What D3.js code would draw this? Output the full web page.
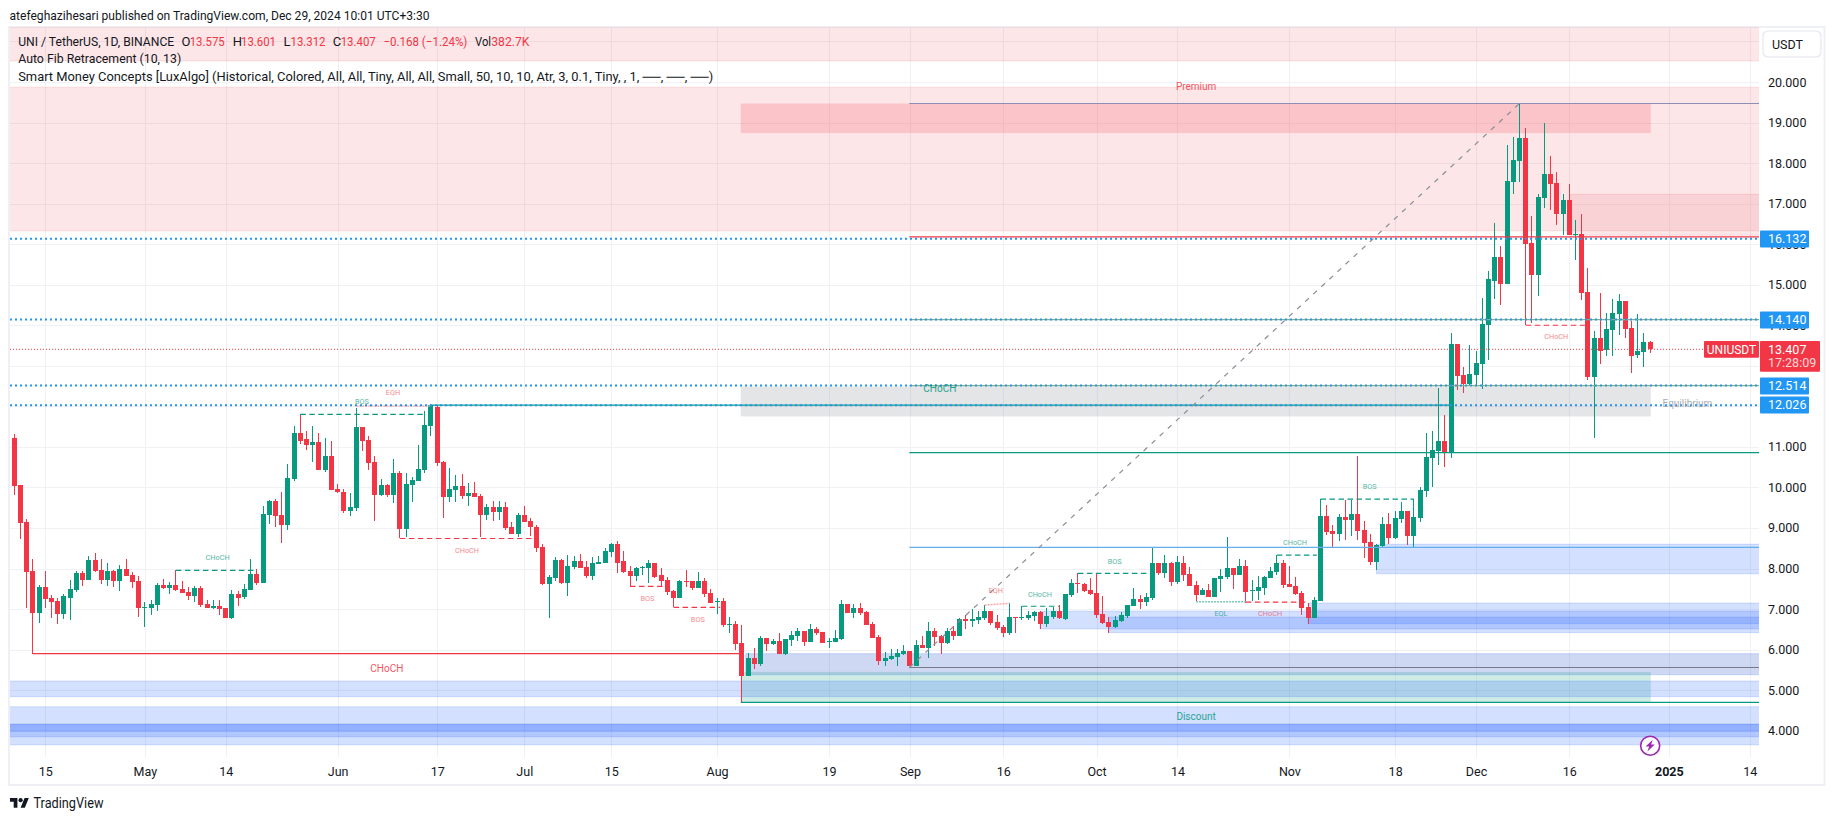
<!DOCTYPE html>
<html>
<head>
<meta charset="utf-8">
<title>UNIUSDT</title>
<script src="https://cdn.jsdelivr.net/npm/d3@7"></script>
<style>
  html, body { margin: 0; padding: 0; background: #fff; }
  svg { display: block; }
  text { font-family: Roboto, "Noto Sans", sans-serif; fill: #131722; }
</style>
</head>
<body>
<svg id="chart" width="1835" height="821"></svg>
<script>
// daily candles, first one is 2024-04-10
const firstDay = Date.UTC(2024, 3, 10);

const opens = [
  11.21,10.05,9.14,7.93,6.90,7.54,7.27,7.19,6.87,7.27,
  7.47,7.88,7.71,8.21,7.96,7.71,7.93,7.69,7.99,7.84,
  7.69,7.02,7.02,7.10,7.59,7.52,7.59,7.49,7.42,7.32,
  7.52,7.12,7.02,7.07,7.02,6.78,7.37,7.29,7.47,7.86,
  7.64,9.32,9.66,9.32,9.07,10.20,11.34,11.19,11.04,11.12,
  10.43,10.77,9.96,9.88,9.41,9.49,11.49,11.17,10.62,9.81,
  10.05,9.81,10.35,8.97,10.05,10.15,10.43,11.51,11.98,10.62,
  9.76,9.93,10.03,9.79,9.86,9.79,9.32,9.51,9.39,9.51,
  9.02,8.85,9.32,9.17,9.02,8.53,7.62,7.76,8.21,7.64,
  8.03,8.18,8.03,7.81,8.11,8.13,8.40,8.60,8.18,7.94,
  7.81,8.03,8.01,8.13,7.84,7.71,7.44,7.27,7.69,7.69,
  7.52,7.69,7.39,7.18,7.20,6.61,6.63,6.16,5.35,5.79,
  5.64,6.28,6.14,6.21,5.89,6.23,6.33,6.46,6.19,6.51,
  6.43,6.19,6.19,6.26,7.12,6.90,7.02,6.93,6.63,6.31,
  5.72,5.77,5.82,5.89,5.96,5.59,6.11,6.04,6.46,6.33,
  6.16,6.46,6.33,6.75,6.70,6.73,6.78,6.95,6.68,6.56,
  6.41,6.80,6.79,6.78,6.83,6.93,6.63,6.80,6.95,6.75,
  7.35,7.64,7.62,7.47,7.39,6.88,6.68,6.56,6.70,6.83,
  7.07,7.25,7.17,7.27,8.13,7.89,8.13,7.67,8.13,7.86,
  7.59,7.35,7.47,7.30,7.74,7.79,8.01,7.84,8.06,7.44,
  7.44,7.52,7.76,7.91,8.13,7.62,7.57,7.39,7.05,6.78,
  7.20,9.29,8.92,8.85,9.27,9.19,9.34,8.95,8.65,8.16,
  8.55,9.09,8.75,9.22,9.41,8.80,9.24,9.91,10.72,10.89,
  11.14,10.87,13.53,12.77,12.55,12.77,13.04,14.00,15.09,15.68,
  15.01,17.53,18.05,18.61,16.02,15.23,17.13,17.72,17.50,16.74,
  17.08,16.22,16.24,14.81,12.72,13.68,13.38,13.88,14.27,14.59,
  13.93,13.26,13.34,13.575];

const highs = [
  11.31,10.05,9.22,8.23,7.59,7.93,7.34,7.27,7.37,7.71,
  7.93,7.93,8.31,8.38,8.23,8.13,7.96,8.08,8.23,7.91,
  7.81,7.17,7.22,7.64,7.74,7.66,7.96,7.69,7.54,7.57,
  7.57,7.22,7.22,7.22,7.02,7.47,7.44,7.61,8.23,7.99,
  9.54,9.69,9.71,9.88,10.57,11.51,11.81,11.39,11.51,11.34,
  11.21,11.14,10.08,9.96,9.86,11.97,11.49,11.26,10.77,10.20,
  10.08,10.70,10.40,10.35,10.25,11.04,11.88,12.06,12.03,10.65,
  10.47,10.30,10.33,10.11,10.13,9.83,9.59,9.66,9.66,9.64,
  9.14,9.37,9.54,9.24,9.07,8.60,7.84,8.28,8.23,8.33,
  8.31,8.36,8.18,8.28,8.31,8.50,8.63,8.68,8.43,8.06,
  8.03,8.06,8.21,8.13,8.01,7.79,7.47,7.71,7.96,7.69,
  7.91,7.76,7.49,7.27,7.27,6.80,6.70,6.60,5.91,6.04,
  6.33,6.28,6.26,6.41,6.26,6.46,6.53,6.46,6.63,6.56,
  6.43,6.28,6.48,7.22,7.12,7.12,7.15,6.95,6.68,6.36,
  5.94,6.01,6.01,6.11,5.96,6.24,6.33,6.68,6.53,6.36,
  6.53,6.58,6.78,6.85,7.00,6.95,7.10,6.95,6.85,6.60,
  7.15,6.80,7.07,6.95,6.95,6.95,7.02,7.05,7.10,7.37,
  7.74,7.89,7.64,7.76,7.86,7.32,6.80,6.83,6.93,7.10,
  7.52,7.34,7.39,8.50,8.13,8.33,8.16,8.31,8.31,8.03,
  7.69,7.52,7.62,7.76,7.99,8.77,8.01,8.23,8.21,7.71,
  7.81,7.81,8.03,8.33,8.21,8.06,7.79,7.44,7.15,7.30,
  9.71,9.56,9.07,9.34,9.69,9.69,10.77,9.17,8.85,8.60,
  9.27,9.37,9.41,9.64,9.41,9.71,10.01,11.34,11.39,12.45,
  11.78,13.80,13.53,12.96,13.51,13.36,14.67,15.33,16.52,15.95,
  18.44,18.64,19.47,18.86,16.69,17.23,18.98,18.17,17.77,17.23,
  17.48,16.59,16.74,15.41,13.85,14.79,14.30,14.64,14.76,14.59,
  14.10,14.27,13.80,13.601];

const lows = [
  9.81,8.73,7.02,5.90,6.65,7.02,6.78,6.63,6.75,6.73,
  7.42,7.57,7.71,7.91,7.62,7.57,7.54,7.44,7.81,7.52,
  6.80,6.56,6.85,6.95,7.49,7.37,7.44,7.39,7.22,7.17,
  7.05,7.02,7.00,6.85,6.78,6.75,7.07,7.24,7.47,7.59,
  7.64,9.09,9.02,8.63,8.95,10.15,11.07,10.92,10.62,10.43,
  10.38,9.93,9.86,9.36,9.29,9.41,10.89,10.43,9.17,9.78,
  9.76,9.61,8.75,8.77,9.64,10.15,10.35,11.26,10.52,9.24,
  9.64,9.64,9.71,9.54,9.76,8.77,9.19,9.17,9.19,8.95,
  8.85,8.77,9.14,8.80,8.40,7.59,6.78,7.69,7.62,7.32,
  7.99,8.01,7.76,7.71,8.11,8.13,8.28,7.89,7.89,7.57,
  7.69,7.84,7.64,7.76,7.57,7.34,7.05,7.27,7.54,7.47,
  7.52,7.30,7.15,6.88,6.56,6.41,5.99,4.70,5.35,5.52,
  5.59,5.96,6.11,5.89,5.87,6.09,6.21,6.09,6.19,6.36,
  6.16,6.04,6.19,6.23,6.90,6.78,6.85,6.60,6.28,5.62,
  5.59,5.74,5.59,5.87,5.59,5.59,6.04,5.79,6.09,5.89,
  6.14,6.23,6.33,6.51,6.56,6.63,6.73,6.60,6.48,6.31,
  6.36,6.41,6.73,6.73,6.70,6.51,6.56,6.75,6.75,6.73,
  7.30,7.39,7.42,7.35,6.78,6.63,6.41,6.53,6.68,6.78,
  7.07,7.00,7.07,7.22,7.84,7.76,7.57,7.62,7.69,7.57,
  7.20,7.35,7.30,7.30,7.42,7.74,7.49,7.84,7.16,7.20,
  7.22,7.34,7.76,7.84,7.52,7.54,7.34,6.85,6.63,6.78,
  7.20,8.82,8.53,8.68,8.70,8.80,8.70,8.26,8.08,7.96,
  8.53,8.60,8.72,9.12,8.58,8.53,9.14,9.76,10.01,10.55,
  10.50,10.72,12.40,12.32,12.52,12.52,12.42,13.14,14.64,14.49,
  15.01,17.23,17.53,14.00,14.05,14.72,16.89,16.84,16.47,16.22,
  16.22,15.60,14.62,12.65,11.22,13.04,13.24,13.24,13.75,13.68,
  12.82,13.19,12.97,13.312];

const closes = [
  10.03,9.12,7.91,6.90,7.54,7.24,7.17,6.87,7.32,7.49,
  7.88,7.71,8.21,7.93,7.71,7.93,7.69,7.99,7.81,7.66,
  7.02,7.04,7.12,7.59,7.52,7.59,7.47,7.39,7.32,7.52,
  7.10,7.02,7.07,7.00,6.78,7.37,7.27,7.49,7.86,7.64,
  9.34,9.66,9.29,9.07,10.23,11.34,11.14,11.04,11.12,10.43,
  10.77,9.93,9.88,9.41,9.51,11.49,11.14,10.60,9.81,10.05,
  9.81,10.35,8.97,10.08,10.18,10.45,11.53,12.03,10.60,9.76,
  9.96,10.03,9.79,9.86,9.76,9.32,9.51,9.39,9.51,9.00,
  8.85,9.32,9.14,9.02,8.50,7.61,7.79,8.21,7.64,8.06,
  8.18,8.01,7.81,8.13,8.16,8.43,8.60,8.13,7.91,7.81,
  8.01,8.04,8.13,7.79,7.69,7.42,7.27,7.69,7.67,7.52,
  7.69,7.37,7.15,7.20,6.60,6.63,6.14,5.35,5.79,5.64,
  6.28,6.14,6.21,5.89,6.26,6.36,6.46,6.19,6.51,6.41,
  6.16,6.21,6.28,7.12,6.90,7.02,6.90,6.60,6.28,5.72,
  5.79,5.84,5.91,5.96,5.59,6.11,6.04,6.46,6.31,6.16,
  6.46,6.33,6.75,6.70,6.75,6.80,6.95,6.65,6.53,6.41,
  6.80,6.79,6.80,6.85,6.93,6.63,6.83,6.95,6.78,7.37,
  7.64,7.62,7.44,7.37,6.85,6.65,6.56,6.73,6.85,7.10,
  7.25,7.17,7.30,8.13,7.89,8.13,7.67,8.16,7.84,7.57,
  7.35,7.47,7.30,7.76,7.81,8.01,7.84,8.06,7.42,7.47,
  7.54,7.79,7.94,8.13,7.59,7.54,7.37,7.02,6.78,7.22,
  9.29,8.90,8.85,9.27,9.19,9.34,8.92,8.63,8.16,8.58,
  9.09,8.75,9.24,9.41,8.80,9.27,9.93,10.75,10.92,11.14,
  10.87,13.53,12.74,12.55,12.79,13.06,14.03,15.14,15.68,15.01,
  17.55,18.07,18.61,16.00,15.23,17.16,17.72,17.48,16.74,17.08,
  16.22,16.25,14.79,12.72,13.68,13.36,13.90,14.30,14.59,13.90,
  13.24,13.36,13.58,13.407];

const priceTicks = [4,5,6,7,8,9,10,11,12,13,14,15,16,17,18,19,20,21];
// these axis labels sit fully behind a tag or the currency button
const coveredTicks = [12,13,21];
const timeTickDates = [[2024,3,15],[2024,4,1],[2024,4,14],[2024,5,1],[2024,5,17],[2024,6,1],[2024,6,15],
  [2024,7,1],[2024,7,19],[2024,8,1],[2024,8,16],[2024,9,1],[2024,9,14],[2024,10,1],[2024,10,18],
  [2024,11,1],[2024,11,16],[2025,0,1],[2025,0,14]];
const timeTickLabels = ["15","May","14","Jun","17","Jul","15","Aug","19","Sep","16","Oct","14","Nov","18","Dec","16","2025","14"];

// price lines with an axis tag
const dottedLevels = [16.132, 14.140, 12.514, 12.026];
const lastPrice = 13.407;

// zones: first bar, last bar (null = chart edge), top, bottom, kind
const zones = [
  [null, null, 23.00, 20.52, "premium"],
  [null, null, 19.87, 16.33, "premium"],
  [116.8, 263.1, 19.47, 18.74, "premiumDark"],
  [250.1, null, 17.23, 16.22, "premiumSoft"],
  [116.8, 263.1, 12.49, 11.75, "equilibrium"],
  [219, null, 8.60, 7.87, "blue"],
  [208, null, 7.15, 6.64, "blue"],
  [164.9, null, 6.95, 6.51, "blue"],
  [176, null, 6.80, 6.42, "blue"],
  [117.6, null, 5.90, 5.38, "blueGrey"],
  [116.8, 263.1, 5.45, 4.70, "green"],
  [null, null, 5.225, 4.84, "blue"],
  [null, null, 4.59, 3.65, "blue"],
  [null, null, 4.16, 3.85, "blue"],
  [null, null, 4.16, 3.99, "blueDeep"]
];

// structure lines: first bar, last bar, price at start, price at end, kind
const structure = [
  [26, 39, 7.955, 7.955, "greenDash"],
  [46, 66.2, 11.80, 11.80, "greenDash"],
  [55, 66.8, 12.01, 12.01, "redDot"],
  [62, 83.5, 8.74, 8.74, "redDash"],
  [99, 104.6, 7.56, 7.56, "redDash"],
  [106, 113.5, 7.04, 7.04, "redDash"],
  [156, 160, 7.10, 7.14, "redDot"],
  [162, 168, 7.07, 7.07, "greenDash"],
  [171, 182.6, 7.88, 7.88, "greenDash"],
  [203, 209.4, 8.33, 8.33, "greenDash"],
  [190, 198, 7.18, 7.18, "greenDot"],
  [198, 208, 7.17, 7.17, "redDash"],
  [210, 225, 9.71, 9.71, "greenDash"],
  [243, 252.5, 14.00, 14.00, "redDash"],
  [3, 116.8, 5.90, 5.90, "redSolid"],
  [67, 231.3, 12.03, 12.03, "greenSolid"],
  [116.8, null, 4.70, 4.70, "greenSolid"],
  [143.9, null, 19.47, 19.47, "fibTop"],
  [143.9, null, 16.18, 16.18, "redSolid"],
  [143.9, null, 14.14, 14.14, "fibOlive"],
  [143.9, null, 12.51, 12.51, "fibOlive"],
  [143.9, null, 10.86, 10.86, "greenSolid"],
  [143.9, null, 8.52, 8.52, "fibBlue"],
  [143.9, null, 5.56, 5.56, "fibGrey"],
  [143.9, 242, 5.56, 19.47, "fibTrend"]
];

// chart labels: text, bar, price, kind
const labels = [
  ["CHoCH", 32.7, 8.28, "tinyGreen"], ["BOS", 55.9, 12.12, "tinyGreen"], ["EQH", 60.9, 12.34, "tinyRed"],
  ["CHoCH", 72.8, 8.44, "tinyRed"], ["BOS", 101.8, 7.25, "tinyRed"], ["BOS", 109.9, 6.75, "tinyRed"],
  ["EQH", 157.8, 7.46, "tinyRed"], ["CHoCH", 164.9, 7.36, "tinyGreen"], ["BOS", 176.9, 8.18, "tinyGreen"],
  ["CHoCH", 205.9, 8.65, "tinyGreen"], ["EQL", 194, 6.89, "tinyGreen"], ["CHoCH", 201.9, 6.89, "tinyRed"],
  ["BOS", 217.9, 10.02, "tinyGreen"], ["CHoCH", 247.9, 13.72, "tinyRed"],
  ["CHoCH", 148.8, 12.44, "bigGreen"], ["CHoCH", 59.9, 5.53, "bigRed"],
  ["Premium", 190, 19.88, "bigRed"], ["Discount", 190, 4.34, "bigGreen"], ["Equilibrium", 269, 12.08, "bigGrey"]
];

const legendTitle = "UNI / TetherUS, 1D, BINANCE";
const legendValues = [["O", "13.575"], ["H", "13.601"], ["L", "13.312"], ["C", "13.407"]];
const legendChange = "\u22120.168 (\u22121.24%)";
const legendVolume = "382.7K";

const green = "#089981", red = "#F23645", blue = "#2196F3";
const zoneStyle = {
  premium: ["rgba(242,54,69,.125)", "rgba(242,54,69,.14)"],
  premiumDark: ["rgba(242,54,69,.19)", "none"],
  premiumSoft: ["rgba(230,120,125,.18)", "rgba(242,54,69,.14)"],
  equilibrium: ["rgba(120,123,134,.2)", "none"],
  blue: ["rgba(41,98,255,.2)", "rgba(41,98,255,.18)"],
  blueDeep: ["rgba(41,98,255,.22)", "rgba(41,98,255,.2)"],
  blueGrey: ["rgba(55,90,200,.24)", "rgba(41,98,255,.2)"],
  green: ["rgba(8,153,129,.2)", "none"]
};
const lineStyle = {
  greenDash: [green, 1.2, "5.5 3.5"], redDash: [red, 1.2, "5.5 3.5"],
  redDot: ["#f9a6ad", 1.5, "2 1"], greenDot: ["#7cc7b9", 1.5, "2 1"],
  redSolid: [red, 1.2, null], greenSolid: [green, 1.2, null],
  fibTop: ["#8b8fb5", 1.2, null], fibOlive: ["#8ab17d", 1.2, null],
  fibBlue: ["#64aeea", 1.2, null], fibGrey: ["#787b86", 1.1, null],
  fibTrend: ["#8a8d98", 1.2, "5 6"]
};
const labelStyle = {
  tinyGreen: ["#089981", 7.3, .7], tinyRed: ["#F23645", 7.3, .6],
  bigGreen: ["#089981", 10, .85], bigRed: ["#F23645", 10, .85], bigGrey: ["#9598a1", 10, .8]
};

const plot = { left: 10, right: 1759, top: 27, bottom: 757.7 };
const svg = d3.select("#chart");

const xScale = d3.scaleUtc()
  .domain([new Date(Date.UTC(2024, 3, 15)), new Date(Date.UTC(2025, 0, 14))])
  .range([45.3, 1749.7]);
const yScale = d3.scaleLinear().domain([4, 20]).range([730.7, 82]);

const barDate = i => new Date(firstDay + i * 86400000);
const barX = i => i === null ? plot.right : xScale(barDate(i));

// frame
svg.append("rect").attr("x", 9).attr("y", 27).attr("width", 1815.5).attr("height", 758)
  .attr("fill", "#fff").attr("stroke", "#eef0f6").attr("stroke-width", 2);

svg.append("clipPath").attr("id", "plotClip").append("rect")
  .attr("x", plot.left).attr("y", plot.top)
  .attr("width", plot.right - plot.left).attr("height", plot.bottom - plot.top);

const g = svg.append("g").attr("clip-path", "url(#plotClip)");

// grid
g.selectAll(".gridH").data(priceTicks).enter().append("line")
  .attr("x1", plot.left).attr("x2", plot.right)
  .attr("y1", d => Math.round(yScale(d)) + .5).attr("y2", d => Math.round(yScale(d)) + .5)
  .attr("stroke", "#f0f1f4");
g.selectAll(".gridV").data(timeTickDates).enter().append("line")
  .attr("x1", d => Math.round(xScale(new Date(Date.UTC(d[0], d[1], d[2])))) + .5)
  .attr("x2", d => Math.round(xScale(new Date(Date.UTC(d[0], d[1], d[2])))) + .5)
  .attr("y1", plot.top).attr("y2", plot.bottom)
  .attr("stroke", "#f0f1f4");

// zones
g.selectAll(".zone").data(zones).enter().append("rect")
  .attr("x", d => d[0] === null ? plot.left - 2 : barX(d[0]))
  .attr("y", d => yScale(d[2]))
  .attr("width", d => barX(d[1]) + (d[1] === null ? 2 : 0) - (d[0] === null ? plot.left - 2 : barX(d[0])))
  .attr("height", d => yScale(d[3]) - yScale(d[2]))
  .attr("fill", d => zoneStyle[d[4]][0])
  .attr("stroke", d => zoneStyle[d[4]][1])
  .attr("stroke-width", 1);

// candles
const bars = d3.range(opens.length);
const candleColor = i => closes[i] >= opens[i] ? green : red;
const candles = g.append("g").attr("shape-rendering", "crispEdges");
candles.selectAll(".wick").data(bars).enter().append("rect")
  .attr("x", i => Math.floor(barX(i)))
  .attr("y", i => yScale(highs[i]))
  .attr("width", 1)
  .attr("height", i => yScale(lows[i]) - yScale(highs[i]))
  .attr("fill", candleColor);
candles.selectAll(".body").data(bars).enter().append("rect")
  .attr("x", i => Math.floor(barX(i)) - 2)
  .attr("y", i => yScale(Math.max(opens[i], closes[i])))
  .attr("width", 5)
  .attr("height", i => Math.max(1, Math.abs(yScale(opens[i]) - yScale(closes[i]))))
  .attr("fill", candleColor);

// structure and fib lines
g.selectAll(".structure").data(structure).enter().append("line")
  .attr("x1", d => barX(d[0])).attr("x2", d => barX(d[1]))
  .attr("y1", d => yScale(d[2])).attr("y2", d => yScale(d[3]))
  .attr("stroke", d => lineStyle[d[4]][0])
  .attr("stroke-width", d => lineStyle[d[4]][1])
  .attr("stroke-dasharray", d => lineStyle[d[4]][2]);

// dotted levels and last price line
g.selectAll(".level").data(dottedLevels).enter().append("line")
  .attr("x1", plot.left).attr("x2", plot.right)
  .attr("y1", d => yScale(d)).attr("y2", d => yScale(d))
  .attr("stroke", blue).attr("stroke-width", 2).attr("stroke-dasharray", "2 3");
g.append("line")
  .attr("x1", plot.left).attr("x2", 1704)
  .attr("y1", yScale(lastPrice)).attr("y2", yScale(lastPrice))
  .attr("stroke", red).attr("stroke-dasharray", "1 2");

// chart labels
g.selectAll(".label").data(labels).enter().append("text")
  .attr("x", d => barX(d[1])).attr("y", d => yScale(d[2]))
  .attr("dy", ".35em").attr("text-anchor", "middle")
  .style("fill", d => labelStyle[d[3]][0])
  .style("font-size", d => labelStyle[d[3]][1] + "px")
  .style("opacity", d => labelStyle[d[3]][2])
  .text(d => d[0]);

// axes
const yAxis = d3.axisRight(yScale).tickValues(priceTicks.filter(d => !coveredTicks.includes(d)))
  .tickSize(0).tickPadding(0).tickFormat(d3.format(".3f"));
const yg = svg.append("g").attr("transform", "translate(1768,0)").call(yAxis);
yg.select(".domain").remove();
yg.selectAll("text").style("font-size", "12.5px").style("font-family", "Roboto").attr("fill", null);

const timeTicks = timeTickDates.map(d => new Date(Date.UTC(d[0], d[1], d[2])));
const xAxis = d3.axisBottom(xScale).tickValues(timeTicks).tickSize(0).tickPadding(0)
  .tickFormat((d, i) => timeTickLabels[i]);
const xg = svg.append("g").attr("transform", "translate(0,772)").call(xAxis);
xg.select(".domain").remove();
xg.selectAll("text").attr("y", 0).attr("dy", ".35em").style("font-size", "12.5px")
  .style("font-weight", (d, i) => timeTickLabels[i] === "2025" ? 700 : 400);

// axis tags
function tag(x, y, w, h, color, lines, size) {
  svg.append("rect").attr("x", x).attr("y", y).attr("width", w).attr("height", h).attr("rx", 1).attr("fill", color);
  lines.forEach((l, i) => {
    svg.append("text").attr("x", x + (size ? w / 2 : 8)).attr("y", y + 8.5 + i * 13.5).attr("dy", ".35em")
      .attr("text-anchor", size ? "middle" : "start")
      .style("fill", "#fff").style("font-size", (size || 12.5) + "px").style("opacity", i ? .8 : 1).text(l);
  });
}
dottedLevels.forEach(v => tag(1760, Math.round(yScale(v)) - 8.5, 49, 17, blue, [d3.format(".3f")(v)]));
tag(1760, 341, 60, 30.7, red, [d3.format(".3f")(lastPrice), "17:28:09"]);
tag(1704, 341, 55, 16.7, red, ["UNIUSDT"], 12);

// currency button
svg.append("rect").attr("x", 1763).attr("y", 31).attr("width", 58).attr("height", 26).attr("rx", 5)
  .attr("fill", "#fff").attr("stroke", "#e4e6ee").attr("stroke-width", 1.2);
svg.append("text").attr("x", 1772).attr("y", 44.5).attr("dy", ".35em").style("font-size", "12.5px").text("USDT");

// event icon
const iconX = barX(263), iconY = 745.7;
svg.append("circle").attr("cx", iconX).attr("cy", iconY).attr("r", 9.5)
  .attr("fill", "#fff").attr("stroke", "#9C27B0").attr("stroke-width", 1.6);
svg.append("path").attr("transform", `translate(${iconX},${iconY})`)
  .attr("d", "M2.6,-6 L-4.6,0.8 L-1,0.8 L-2.8,5.8 L4.6,-1.2 L1,-1.2 Z").attr("fill", "#9C27B0");

// legend and header
svg.append("text").attr("x", 9.5).attr("y", 15).attr("dy", ".35em")
  .attr("textLength", 420).attr("lengthAdjust", "spacingAndGlyphs")
  .style("font-size", "13px").text("atefeghazihesari published on TradingView.com, Dec 29, 2024 10:01 UTC+3:30");

function legendPiece(x, y, txt, color, len) {
  const t = svg.append("text").attr("x", x).attr("y", y).attr("dy", ".35em")
    .style("font-size", "13px").style("fill", color).text(txt);
  if (len) t.attr("textLength", len).attr("lengthAdjust", "spacingAndGlyphs");
}
legendPiece(18.2, 41.7, legendTitle, "#131722", 156);
const valueX = [181.4, 232.8, 283.4, 332.8];
const valueOffset = [8.3, 8.2, 7.1, 7.9];
legendValues.forEach((d, i) => {
  legendPiece(valueX[i], 41.7, d[0], "#131722");
  legendPiece(valueX[i] + valueOffset[i], 41.7, d[1], red, 35);
});
legendPiece(383.4, 41.7, legendChange, red, 84);
legendPiece(475, 41.7, "Vol", "#131722", 16);
legendPiece(491.3, 41.7, legendVolume, red, 38);
legendPiece(18.2, 58.7, "Auto Fib Retracement (10, 13)", "#131722", 163);
legendPiece(18.2, 76, "Smart Money Concepts [LuxAlgo] (Historical, Colored, All, All, Tiny, All, All, Small, 50, 10, 10, Atr, 3, 0.1, Tiny, , 1, \u2500\u2500, \u2500\u2500, \u2500\u2500)", "#131722", 695);

// footer logo
const logo = svg.append("g").attr("transform", "translate(10,796) scale(.53)").attr("fill", "#131722");
logo.append("path").attr("d", "M14 22H7V11H0V4h14v18zM28 22h-8l7.5-18h8L28 22z");
logo.append("circle").attr("cx", 20).attr("cy", 8).attr("r", 4);
svg.append("text").attr("x", 33.5).attr("y", 803.5).attr("dy", ".35em")
  .attr("textLength", 70).attr("lengthAdjust", "spacingAndGlyphs")
  .style("font-size", "14px").text("TradingView");
</script>
</body>
</html>
